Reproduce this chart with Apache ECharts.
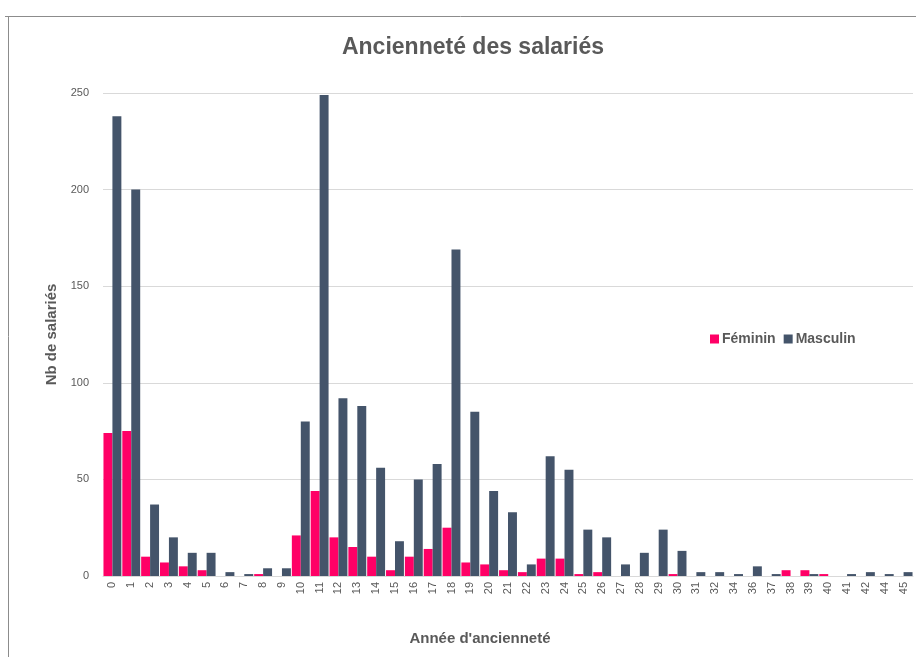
<!DOCTYPE html>
<html>
<head>
<meta charset="utf-8">
<script src="https://cdn.jsdelivr.net/npm/echarts@6/dist/echarts.min.js"></script>
<style>
  html, body { margin: 0; padding: 0; background: #fff; }
  #chart { width: 916px; height: 657px; }
</style>
</head>
<body>
<div id="chart"></div>
<script>
// années d'ancienneté (catégories de l'axe x)
var annees = ['0', '1', '2', '3', '4', '5', '6', '7', '8', '9', '10', '11', '12', '13', '14', '15', '16', '17', '18', '19', '20',
  '21', '22', '23', '24', '25', '26', '27', '28', '29', '30', '31', '32', '34', '36', '37', '38', '39', '40', '41', '42', '44', '45'];
// effectifs féminins
var feminin = [74, 75, 10, 7, 5, 3, 0, 0, 1, 0, 21, 44, 20, 15, 10, 3, 10, 14, 25, 7, 6,
  3, 2, 9, 9, 1, 2, 0, 0, 0, 1, 0, 0, 0, 0, 0, 3, 3, 1, 0, 0, 0, 0];
// effectifs masculins
var masculin = [238, 200, 37, 20, 12, 12, 2, 1, 4, 4, 80, 249, 92, 88, 56, 18, 50, 58, 169, 85, 44,
  33, 6, 62, 55, 24, 20, 6, 12, 24, 13, 2, 2, 1, 5, 1, 0, 1, 0, 1, 2, 1, 2];
// graduations de l'axe y
var yMin = 0, yMax = 250, yStep = 50;

var grey = '#595959';
var font = '"Liberation Sans", Arial, sans-serif';

var myChart = echarts.init(document.getElementById('chart'));
var option = {
  animation: false,
  textStyle: { fontFamily: font },
  title: [
    {
      text: 'Ancienneté des salariés',
      left: 468,
      top: 31,
      textAlign: 'center',
      textStyle: { color: grey, fontSize: 23, fontWeight: 'bold', fontFamily: font }
    },
    {
      // titre de l'axe x
      text: "Année d'ancienneté",
      left: 475,
      top: 626,
      textAlign: 'center',
      textStyle: { color: grey, fontSize: 15, fontWeight: 'bold', fontFamily: font }
    }
  ],
  legend: {
    data: ['Féminin', 'Masculin'],
    left: 705,
    top: 327,
    icon: 'rect',
    itemWidth: 9,
    itemHeight: 9,
    itemGap: 8,
    textStyle: { color: grey, fontSize: 14, fontWeight: 'bold', padding: [0, 0, 0, -2] }
  },
  grid: { left: 103, right: 3, top: 93, bottom: 81, containLabel: false },
  xAxis: {
    type: 'category',
    data: annees,
    axisTick: { show: false },
    axisLine: { lineStyle: { color: '#D9D9D9' } },
    axisLabel: { interval: 0, rotate: 90, color: grey, fontSize: 11, margin: 6 }
  },
  yAxis: {
    type: 'value',
    min: yMin,
    max: yMax,
    interval: yStep,
    name: 'Nb de salariés',
    nameLocation: 'middle',
    nameGap: 39,
    nameTextStyle: { color: grey, fontSize: 15, fontWeight: 'bold' },
    axisLine: { show: false },
    axisTick: { show: false },
    axisLabel: { color: grey, fontSize: 11, margin: 14 },
    splitLine: { lineStyle: { color: '#D9D9D9' } }
  },
  series: [
    {
      name: 'Féminin',
      type: 'bar',
      data: feminin,
      barGap: '0%',
      barCategoryGap: '5%',
      itemStyle: { color: '#FF0066' }
    },
    {
      name: 'Masculin',
      type: 'bar',
      data: masculin,
      barGap: '0%',
      barCategoryGap: '5%',
      itemStyle: { color: '#44546A' }
    }
  ],
  graphic: [
    // cadre de la zone du graphique
    { type: 'line', silent: true, shape: { x1: 5, y1: 16.5, x2: 916, y2: 16.5 }, style: { stroke: '#8C8C8C', lineWidth: 1 } },
    { type: 'line', silent: true, shape: { x1: 8.5, y1: 16, x2: 8.5, y2: 657 }, style: { stroke: '#8C8C8C', lineWidth: 1 } }
  ]
};
option && myChart.setOption(option);
</script>
</body>
</html>
